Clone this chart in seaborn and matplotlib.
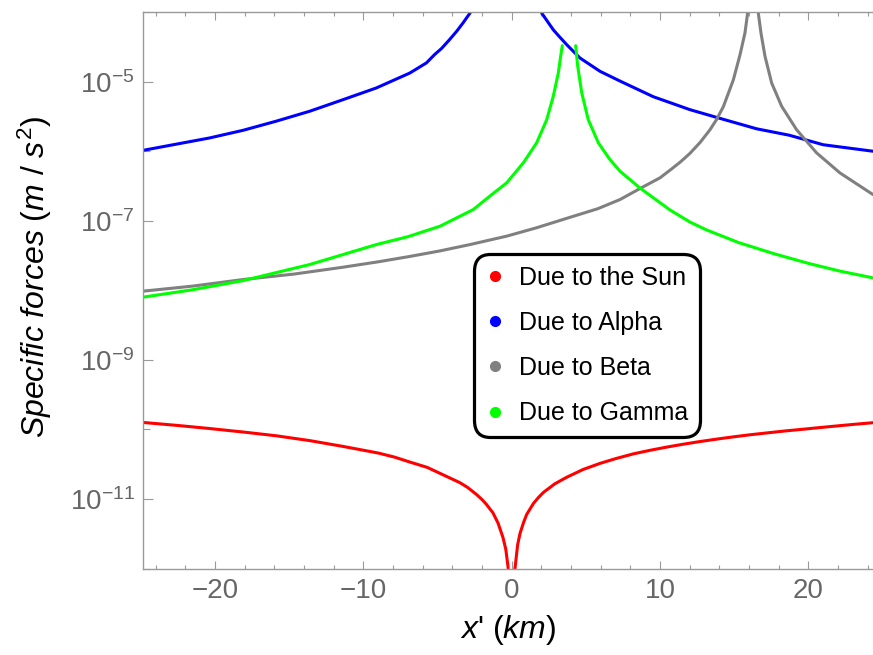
import numpy as np
import pandas as pd
import matplotlib
matplotlib.use("Agg")
import matplotlib.pyplot as plt
from matplotlib.lines import Line2D
from matplotlib.ticker import FixedLocator, LogFormatterSciNotation, NullFormatter, MultipleLocator
import seaborn as sns

# ---- data (x' in km, specific force in m/s^2) ----
sun_left_x = [-24.84, -22.5, -20.35, -18.0, -15.86, -13.6, -11.37, -9.0, -7.9, -6.87, -5.7, -4.63,
              -3.5, -3.0, -2.39, -2.0, -1.71, -1.26, -0.92, -0.59, -0.4, -0.25, -0.12]
sun_left_f = [1.26e-10, 1.14e-10, 1.03e-10, 9.13e-11, 8.1e-11, 6.9e-11, 5.7e-11, 4.58e-11, 4.0e-11, 3.4e-11,
              2.85e-11, 2.23e-11, 1.72e-11, 1.48e-11, 1.17e-11, 9.8e-12, 8.4e-12, 6.3e-12, 4.5e-12, 2.8e-12,
              1.9e-12, 1.07e-12, 5e-13]
sun_right_x = [0.12, 0.22, 0.4, 0.56, 0.8, 1.01, 1.46, 1.8, 2.13, 2.9, 3.7, 4.8, 5.95, 7.0, 8.19, 9.3,
               10.4, 11.5, 12.69, 14.0, 15.0, 16.0, 17.18, 18.4, 19.5, 20.5, 21.67, 23.0, 24.35]
sun_right_f = [5e-13, 1.0e-12, 2.2e-12, 3.2e-12, 4.6e-12, 6.0e-12, 8.6e-12, 1.05e-11, 1.24e-11, 1.65e-11,
               2.05e-11, 2.65e-11, 3.25e-11, 3.8e-11, 4.45e-11, 5.0e-11, 5.55e-11, 6.1e-11, 6.7e-11, 7.35e-11,
               7.85e-11, 8.35e-11, 8.9e-11, 9.5e-11, 1.0e-10, 1.05e-10, 1.11e-10, 1.18e-10, 1.25e-10]

alpha_left_x = [-24.84, -20.37, -18.1, -15.88, -13.61, -11.37, -9.12, -6.87, -5.75, -5.2, -4.73, -4.2,
                -3.71, -3.28, -2.81, -2.6]
alpha_left_f = [1.03e-6, 1.55e-6, 2.0e-6, 2.7e-6, 3.76e-6, 5.51e-6, 8.13e-6, 1.33e-5, 1.86e-5, 2.45e-5,
                3.0e-5, 4.0e-5, 5.3e-5, 7.0e-5, 9.7e-5, 1.2e-4]
alpha_right_x = [1.85, 2.02, 2.4, 2.8, 3.25, 3.71, 4.6, 5.95, 7.3, 9.54, 12.01, 14.2, 16.51, 18.7, 20.99, 24.35]
alpha_right_f = [1.2e-4, 9.7e-5, 7.4e-5, 5.58e-5, 4.35e-5, 3.4e-5, 2.19e-5, 1.41e-5, 1.02e-5, 6.08e-6,
                 3.96e-6, 2.9e-6, 2.1e-6, 1.7e-6, 1.24e-6, 1.0e-6]

beta_left_x = [-24.84, -21.5, -18.1, -14.7, -11.37, -9.0, -6.87, -4.83, -2.81, -0.34, 1.68, 4.15, 5.8,
               7.3, 8.75, 10.0, 10.78, 11.4, 12.01, 12.7, 13.36, 13.8, 14.26, 14.93, 15.38, 15.72, 15.9, 16.0]
beta_left_f = [9.73e-9, 1.15e-8, 1.43e-8, 1.71e-8, 2.15e-8, 2.57e-8, 3.07e-8, 3.69e-8, 4.55e-8, 6.01e-8,
               7.94e-8, 1.16e-7, 1.49e-7, 2.02e-7, 2.99e-7, 4.15e-7, 5.57e-7, 7.1e-7, 9.3e-7, 1.34e-6,
               2.03e-6, 2.84e-6, 4.35e-6, 1.05e-5, 2.4e-5, 5.01e-5, 9.7e-5, 1.5e-4]
beta_right_x = [16.5, 16.62, 16.8, 17.07, 17.52, 18.19, 19.2, 20.55, 22.12, 24.35]
beta_right_f = [1.5e-4, 9.7e-5, 5.01e-5, 2.32e-5, 9.57e-6, 4.44e-6, 2.04e-6, 9.46e-7, 4.88e-7, 2.38e-7]

gamma_left_x = [-24.84, -21.5, -18.1, -13.61, -9.12, -7.0, -4.83, -2.59, -1.5, -0.34, 0.78, 1.68, 2.36,
                2.8, 3.14, 3.3, 3.41]
gamma_left_f = [7.98e-9, 1.02e-8, 1.38e-8, 2.35e-8, 4.55e-8, 5.9e-8, 8.36e-8, 1.45e-7, 2.24e-7, 3.51e-7,
                6.79e-7, 1.32e-6, 2.84e-6, 6.17e-6, 1.33e-5, 2.32e-5, 3.29e-5]
gamma_right_x = [4.31, 4.45, 4.72, 5.16, 5.84, 6.62, 7.3, 8.65, 10.67, 12.01, 13.12, 15.3, 17.7, 20.0,
                 22.12, 24.35]
gamma_right_f = [3.29e-5, 1.66e-5, 6.89e-6, 2.84e-6, 1.32e-6, 7.59e-7, 5.16e-7, 2.95e-7, 1.43e-7, 9.6e-8,
                 7.4e-8, 4.85e-8, 3.35e-8, 2.44e-8, 1.89e-8, 1.51e-8]

series_names = ["Due to the Sun", "Due to Alpha", "Due to Beta", "Due to Gamma"]
series_colors = ["#ff0000", "#0000ff", "#808080", "#00ff00"]

y_major = [1e-11, 1e-9, 1e-7, 1e-5]
y_minor = [1e-12, 1e-10, 1e-8, 1e-6, 1e-4]
x_major = [-20, -10, 0, 10, 20]

branches = [
    ("Due to the Sun", "L", sun_left_x, sun_left_f),
    ("Due to the Sun", "R", sun_right_x, sun_right_f),
    ("Due to Alpha", "L", alpha_left_x, alpha_left_f),
    ("Due to Alpha", "R", alpha_right_x, alpha_right_f),
    ("Due to Beta", "L", beta_left_x, beta_left_f),
    ("Due to Beta", "R", beta_right_x, beta_right_f),
    ("Due to Gamma", "L", gamma_left_x, gamma_left_f),
    ("Due to Gamma", "R", gamma_right_x, gamma_right_f),
]
rows = []
for name, br, xs, fs in branches:
    for xv, fv in zip(xs, fs):
        rows.append({"x": xv, "f": fv, "series": name, "branch": name + br})
df = pd.DataFrame(rows)

# ---- styling ----
sns.set_style("ticks")
plt.rcParams["font.family"] = ["Liberation Sans", "DejaVu Sans"]
plt.rcParams["mathtext.fontset"] = "custom"
plt.rcParams["mathtext.rm"] = "Liberation Sans"
plt.rcParams["mathtext.it"] = "Liberation Sans:italic"
plt.rcParams["mathtext.bf"] = "Liberation Sans:bold"

fig = plt.figure(figsize=(8.73, 6.55), dpi=100)
ax = fig.add_axes([0.1638, 0.132, 0.8362, 0.8495])

palette = dict(zip(series_names, series_colors))
sns.lineplot(data=df, x="x", y="f", hue="series", units="branch", estimator=None,
             sort=False, palette=palette, linewidth=2.2, legend=False, ax=ax)

ax.set_yscale("log")
ax.set_xlim(-24.85, 24.35)
ax.set_ylim(1e-12, 1e-4)

ax.yaxis.set_major_locator(FixedLocator(y_major))
ax.yaxis.set_minor_locator(FixedLocator(y_minor))
ax.yaxis.set_major_formatter(LogFormatterSciNotation())
ax.yaxis.set_minor_formatter(NullFormatter())
ax.xaxis.set_major_locator(FixedLocator(x_major))
ax.xaxis.set_minor_locator(MultipleLocator(2))

frame_gray = "#9a9a9a"
label_gray = "#666666"
for side in ["left", "bottom", "top"]:
    ax.spines[side].set_color(frame_gray)
    ax.spines[side].set_linewidth(1.0)
ax.spines["right"].set_visible(False)

ax.tick_params(axis="x", which="both", direction="in", top=True, bottom=True,
               colors=frame_gray, labelcolor=label_gray, labelsize=20, pad=7)
ax.tick_params(axis="x", which="major", length=6, width=0.8)
ax.tick_params(axis="x", which="minor", length=3, width=0.8)
ax.tick_params(axis="y", which="both", direction="in", left=True, right=False,
               colors=frame_gray, labelcolor=label_gray, labelsize=20, pad=6)
ax.tick_params(axis="y", which="major", length=7, width=0.8)
ax.tick_params(axis="y", which="minor", length=5, width=0.8)

ax.set_xlabel(r"$x$' ($km$)", fontsize=23, color="black")
ax.set_ylabel(r"$Specific\ forces$ ($m$ / $s^2$)", fontsize=23, color="black")
ax.xaxis.set_label_coords(0.5, -0.11)
ax.yaxis.set_label_coords(-0.148, 0.525)
ax.xaxis.label.set_va("center")
ax.yaxis.label.set_va("center")

handles = [Line2D([], [], marker="o", linestyle="", color=c, markersize=7) for c in series_colors]
leg = ax.legend(handles, series_names, loc="center", bbox_to_anchor=(0.608, 0.401),
                fontsize=18, frameon=True, fancybox=True, labelspacing=0.85,
                handlelength=0.8, handletextpad=0.55, borderpad=0.45, borderaxespad=0.0,
                labelcolor="black")
frame = leg.get_frame()
frame.set_edgecolor("black")
frame.set_linewidth(2.3)
frame.set_facecolor("white")
frame.set_alpha(1.0)
frame.set_boxstyle("round,pad=0,rounding_size=0.65")

fig.savefig("out.png", dpi=100)
